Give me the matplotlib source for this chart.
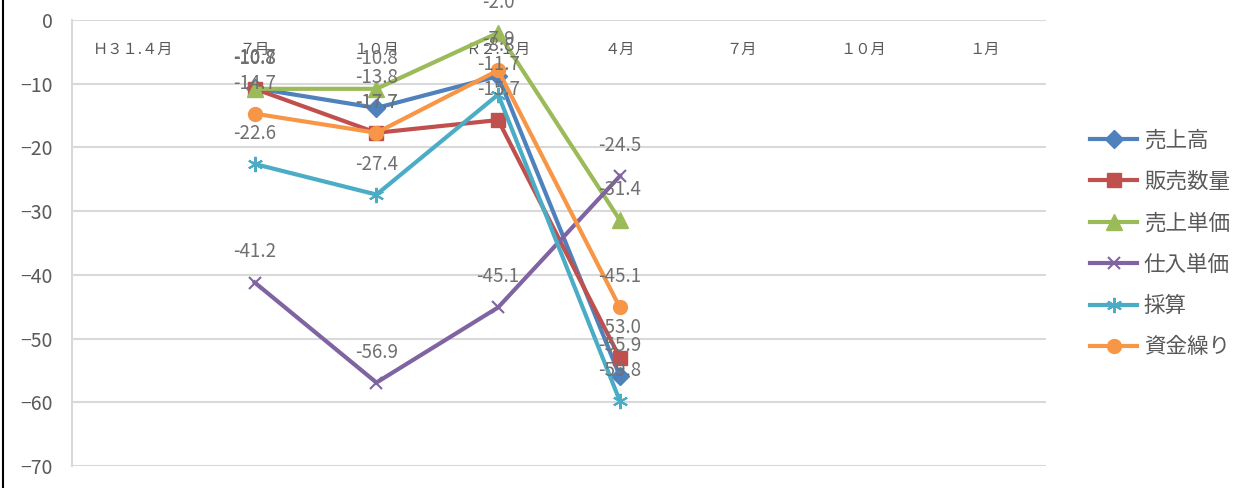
import numpy as np
import matplotlib
matplotlib.use("Agg")
import matplotlib.pyplot as plt
from matplotlib.lines import Line2D

plt.rcParams['font.family'] = ['Noto Sans CJK JP', 'DejaVu Sans']

# DATA
categories = ["Ｈ３１.４月", "７月", "１０月", "Ｒ２.１月", "４月", "７月", "１０月", "１月"]
nan = np.nan
uriage = [nan, -10.7, -13.8, -8.8, -55.9, nan, nan, nan]
hanbai_suryo = [nan, -10.8, -17.7, -15.7, -53.0, nan, nan, nan]
uriage_tanka = [nan, -10.8, -10.8, -2.0, -31.4, nan, nan, nan]
shiire_tanka = [nan, -41.2, -56.9, -45.1, -24.5, nan, nan, nan]
saisan = [nan, -22.6, -27.4, -11.7, -59.8, nan, nan, nan]
shikinguri = [nan, -14.7, -17.7, -7.9, -45.1, nan, nan, nan]

series = [
    ("売上高", uriage, "#4F81BD", "D", 9),
    ("販売数量", hanbai_suryo, "#C0504D", "s", 10),
    ("売上単価", uriage_tanka, "#9BBB59", "^", 11),
    ("仕入単価", shiire_tanka, "#8064A2", "x", 9),
    ("採算", saisan, "#4BACC6", (6, 2, 0), 11),
    ("資金繰り", shikinguri, "#F79646", "o", 10),
]

fig = plt.figure(figsize=(12.45, 4.88), dpi=100)
ax = fig.add_axes([0.058, 0.045, 0.782, 0.914])

x = np.arange(len(categories))
for name, vals, col, mk, ms in series:
    ax.plot(x, vals, color=col, lw=3, marker=mk, markersize=ms,
            markeredgewidth=1.5 if mk in ("x", (6, 2, 0)) else 1,
            markeredgecolor=col, markerfacecolor=col, label=name, zorder=3)

# data labels
for name, vals, col, mk, ms in series:
    for xi, v in zip(x, vals):
        if not np.isnan(v):
            ax.annotate(f"{v:.1f}", (xi, v), xytext=(0, 22), textcoords="offset points",
                        ha="center", va="center", fontsize=13.5, color="#707070",
                        zorder=5, annotation_clip=False)

ax.set_xlim(-0.5, len(categories) - 0.5)
ax.set_ylim(-70, 0)
ax.set_yticks(np.arange(-70, 1, 10))
ax.yaxis.grid(True, color="#d9d9d9", lw=1.5)
ax.set_axisbelow(True)

ax.set_xticks(x)
ax.set_xticklabels(categories)
ax.xaxis.set_ticks_position("top")
ax.tick_params(axis="x", length=0, pad=-27, labelsize=11, labelcolor="#595959")
ax.tick_params(axis="y", length=0, pad=14, labelsize=14, labelcolor="#595959")

for s in ["top", "right", "bottom"]:
    ax.spines[s].set_visible(False)
ax.spines["left"].set_color("#d9d9d9")
ax.spines["left"].set_linewidth(1.5)

fig.legend(loc="center left", bbox_to_anchor=(0.86, 0.5), frameon=False,
           fontsize=15.5, labelcolor="#595959", labelspacing=0.9,
           handlelength=2.2, handletextpad=0.3)

fig.add_artist(Line2D([0.0025, 0.0025], [0, 1], color="black", lw=1.5))

fig.savefig("out.png", dpi=100)
